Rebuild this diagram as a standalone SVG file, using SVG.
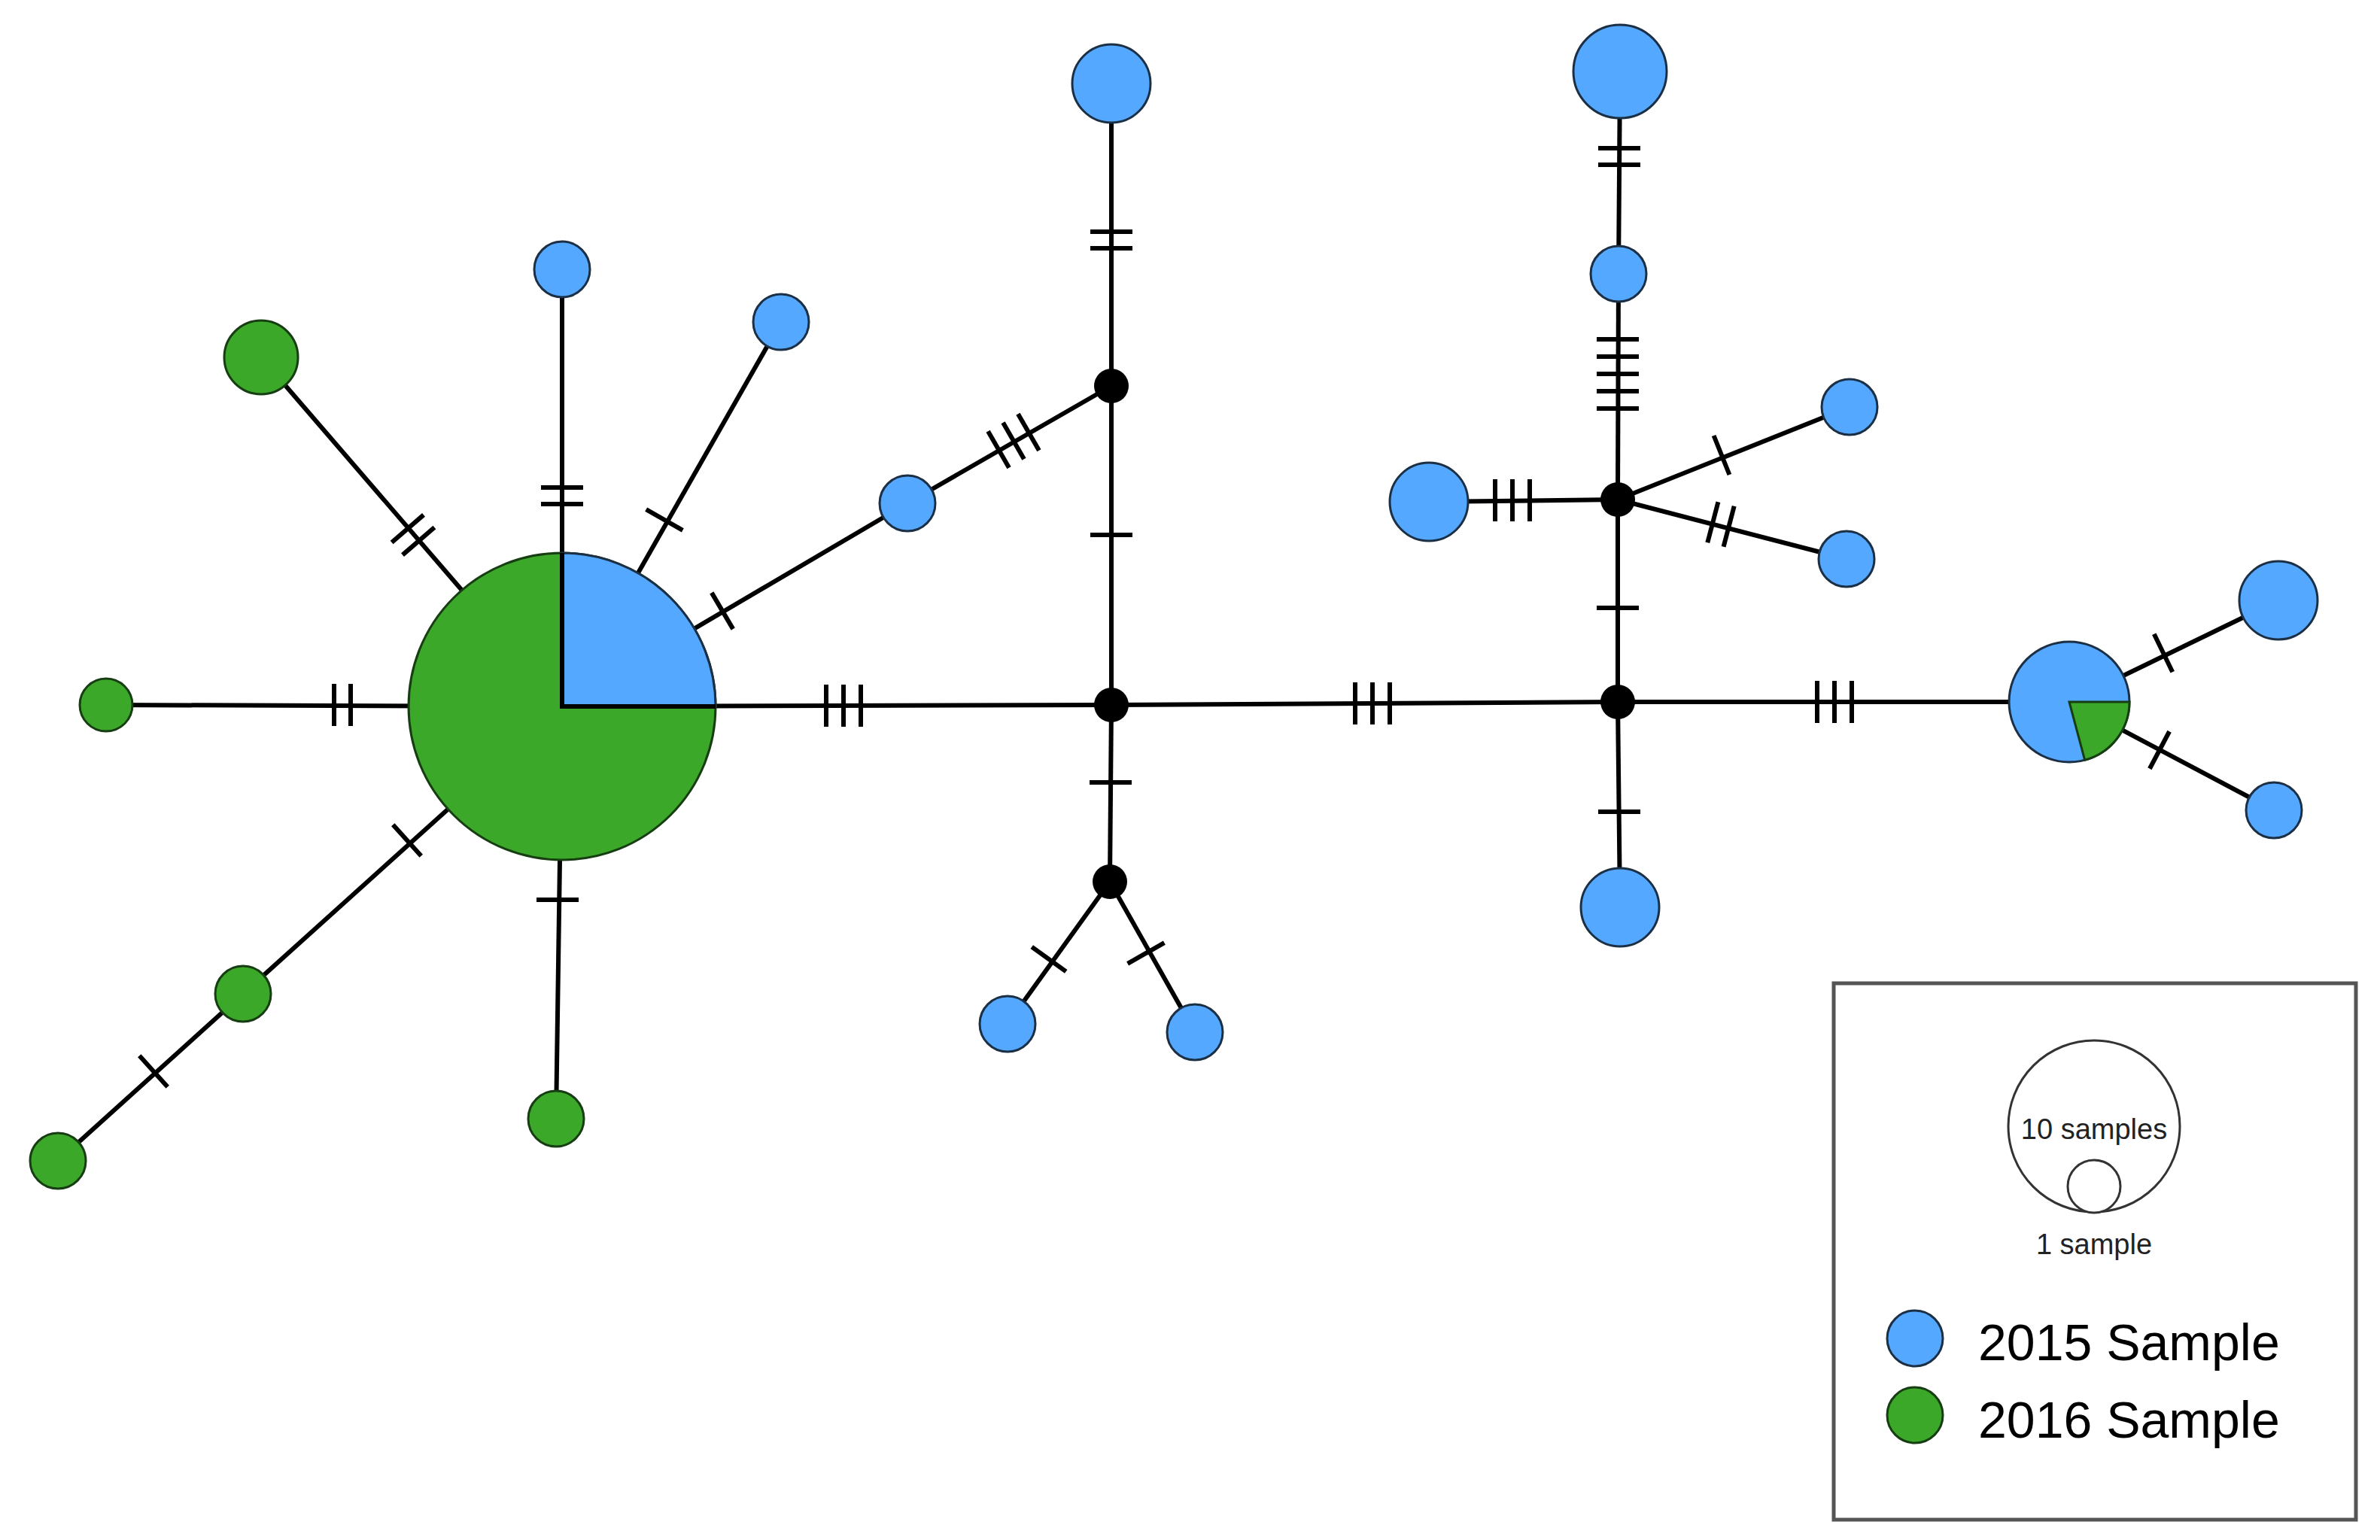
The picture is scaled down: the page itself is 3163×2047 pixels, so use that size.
<svg xmlns="http://www.w3.org/2000/svg" xmlns:xlink="http://www.w3.org/1999/xlink" width="3163" height="2047" viewBox="0 0 3163 2047">
<style>
.e{stroke:#000;stroke-width:6;fill:none}
.t{stroke:#000;stroke-width:6;stroke-linecap:butt}
.b{fill:#55A8FF;stroke:#1b2f45;stroke-width:3}
.g{fill:#3BA829;stroke:#173d12;stroke-width:3}
.k{fill:#000}
.lt{font-family:"Liberation Sans",Arial,sans-serif;font-size:68px;fill:#000}
.st{font-family:"Liberation Sans",Arial,sans-serif;font-size:38px;fill:#222;text-anchor:middle}
</style>
<defs>
<g id="t1"><line class="t" x1="0" y1="-28" x2="0" y2="28"/></g>
<g id="t2"><line class="t" x1="-11" y1="-28" x2="-11" y2="28"/><line class="t" x1="11" y1="-28" x2="11" y2="28"/></g>
<g id="t3"><line class="t" x1="-23" y1="-28" x2="-23" y2="28"/><line class="t" x1="0" y1="-28" x2="0" y2="28"/><line class="t" x1="23" y1="-28" x2="23" y2="28"/></g>
<g id="t5"><line class="t" x1="-46" y1="-28" x2="-46" y2="28"/><line class="t" x1="-23" y1="-28" x2="-23" y2="28"/><line class="t" x1="0" y1="-28" x2="0" y2="28"/><line class="t" x1="23" y1="-28" x2="23" y2="28"/><line class="t" x1="46" y1="-28" x2="46" y2="28"/></g>
</defs>
<rect width="3163" height="2047" fill="#fff"/>
<g id="connectors">
<line class="e" x1="747" y1="939" x2="141" y2="937"/>
<line class="e" x1="747" y1="939" x2="347" y2="475"/>
<line class="e" x1="747" y1="939" x2="747" y2="358"/>
<line class="e" x1="747" y1="939" x2="1038" y2="428"/>
<line class="e" x1="747" y1="939" x2="1206" y2="669"/>
<line class="e" x1="1206" y1="669" x2="1477" y2="513"/>
<line class="e" x1="747" y1="939" x2="1477" y2="937"/>
<line class="e" x1="747" y1="939" x2="323" y2="1321"/>
<line class="e" x1="323" y1="1321" x2="77" y2="1543"/>
<line class="e" x1="747" y1="939" x2="739" y2="1487"/>
<line class="e" x1="1477" y1="513" x2="1477" y2="111"/>
<line class="e" x1="1477" y1="513" x2="1477" y2="937"/>
<line class="e" x1="1477" y1="937" x2="1475" y2="1172"/>
<line class="e" x1="1475" y1="1172" x2="1339" y2="1361"/>
<line class="e" x1="1475" y1="1172" x2="1588" y2="1372"/>
<line class="e" x1="1477" y1="937" x2="2150" y2="933"/>
<line class="e" x1="2150" y1="933" x2="2150" y2="664"/>
<line class="e" x1="2150" y1="933" x2="2153" y2="1206"/>
<line class="e" x1="2150" y1="933" x2="2750" y2="933"/>
<line class="e" x1="2150" y1="664" x2="1899" y2="667"/>
<line class="e" x1="2150" y1="664" x2="2151" y2="364"/>
<line class="e" x1="2151" y1="364" x2="2153" y2="95"/>
<line class="e" x1="2150" y1="664" x2="2458" y2="541"/>
<line class="e" x1="2150" y1="664" x2="2454" y2="743"/>
<line class="e" x1="2750" y1="933" x2="3028" y2="798"/>
<line class="e" x1="2750" y1="933" x2="3022" y2="1077"/>
<use href="#t2" transform="translate(455,937)"/>
<use href="#t2" transform="translate(549,711) rotate(-130.8)"/>
<use href="#t2" transform="translate(747,659) rotate(90)"/>
<use href="#t1" transform="translate(883,691) rotate(-60.3)"/>
<use href="#t1" transform="translate(960,812) rotate(-30.5)"/>
<use href="#t3" transform="translate(1347,586) rotate(-29.9)"/>
<use href="#t3" transform="translate(1121,938)"/>
<use href="#t1" transform="translate(541,1117) rotate(138)"/>
<use href="#t1" transform="translate(204,1424) rotate(138)"/>
<use href="#t1" transform="translate(741,1196) rotate(90)"/>
<use href="#t2" transform="translate(1477,319) rotate(90)"/>
<use href="#t1" transform="translate(1477,711) rotate(90)"/>
<use href="#t1" transform="translate(1476,1040) rotate(90)"/>
<use href="#t1" transform="translate(1394,1275) rotate(125.7)"/>
<use href="#t1" transform="translate(1523,1267) rotate(60.5)"/>
<use href="#t3" transform="translate(1824,935)"/>
<use href="#t1" transform="translate(2150,808) rotate(90)"/>
<use href="#t1" transform="translate(2152,1079) rotate(90)"/>
<use href="#t3" transform="translate(2438,933)"/>
<use href="#t3" transform="translate(2010,665)"/>
<use href="#t5" transform="translate(2150,497) rotate(90)"/>
<use href="#t2" transform="translate(2152,208) rotate(90)"/>
<use href="#t1" transform="translate(2288,605) rotate(-21.8)"/>
<use href="#t2" transform="translate(2287,697) rotate(14.6)"/>
<use href="#t1" transform="translate(2875,868) rotate(-25.9)"/>
<use href="#t1" transform="translate(2870,997) rotate(27.9)"/>
</g>
<g id="hap-main">
<circle class="g" cx="747" cy="939" r="204"/>
<path class="b" d="M747,939 L747,735 A204,204 0 0 1 951,939 Z"/>
<path d="M747,735 L747,939 L951,939" fill="none" stroke="#000" stroke-width="6"/>
</g>
<g id="n-g1"><circle class="g" cx="141" cy="937" r="35"/></g>
<g id="n-g2"><circle class="g" cx="347" cy="475" r="49"/></g>
<g id="n-b1"><circle class="b" cx="747" cy="358" r="37"/></g>
<g id="n-b2"><circle class="b" cx="1038" cy="428" r="37"/></g>
<g id="n-b3"><circle class="b" cx="1206" cy="669" r="37"/></g>
<g id="n-g3"><circle class="g" cx="323" cy="1321" r="37"/></g>
<g id="n-g4"><circle class="g" cx="77" cy="1543" r="37"/></g>
<g id="n-g5"><circle class="g" cx="739" cy="1487" r="37"/></g>
<g id="n-k1"><circle class="k" cx="1477" cy="513" r="23"/></g>
<g id="n-k2"><circle class="k" cx="1477" cy="937" r="23"/></g>
<g id="n-k3"><circle class="k" cx="1475" cy="1172" r="23"/></g>
<g id="n-b4"><circle class="b" cx="1477" cy="111" r="52"/></g>
<g id="n-b5"><circle class="b" cx="1339" cy="1361" r="37"/></g>
<g id="n-b6"><circle class="b" cx="1588" cy="1372" r="37"/></g>
<g id="n-k4"><circle class="k" cx="2150" cy="933" r="23"/></g>
<g id="n-k5"><circle class="k" cx="2150" cy="664" r="23"/></g>
<g id="n-b7"><circle class="b" cx="2153" cy="95" r="62"/></g>
<g id="n-b8"><circle class="b" cx="2151" cy="364" r="37"/></g>
<g id="n-b9"><circle class="b" cx="1899" cy="667" r="52"/></g>
<g id="n-b10"><circle class="b" cx="2458" cy="541" r="37"/></g>
<g id="n-b11"><circle class="b" cx="2454" cy="743" r="37"/></g>
<g id="n-b12"><circle class="b" cx="2153" cy="1206" r="52"/></g>
<g id="hap-right">
<circle class="b" cx="2750" cy="933" r="80"/>
<path class="g" d="M2750,933 L2830,933 A80,80 0 0 1 2770.7,1010.3 Z"/>
</g>
<g id="n-b13"><circle class="b" cx="3028" cy="798" r="52"/></g>
<g id="n-b14"><circle class="b" cx="3022" cy="1077" r="37"/></g>
<g id="legend">
<rect x="2437" y="1307" width="694" height="713" fill="#fff" stroke="#555" stroke-width="5"/>
<circle cx="2783" cy="1497" r="114" fill="none" stroke="#333" stroke-width="3"/>
<circle cx="2783" cy="1577" r="35" fill="#fff" stroke="#333" stroke-width="3"/>
<text class="st" x="2783" y="1514">10 samples</text>
<text class="st" x="2783" y="1667">1 sample</text>
<circle class="b" cx="2545" cy="1779" r="37"/>
<circle class="g" cx="2545" cy="1881" r="37"/>
<text class="lt" x="2629" y="1808">2015 Sample</text>
<text class="lt" x="2629" y="1911">2016 Sample</text>
</g>
</svg>
